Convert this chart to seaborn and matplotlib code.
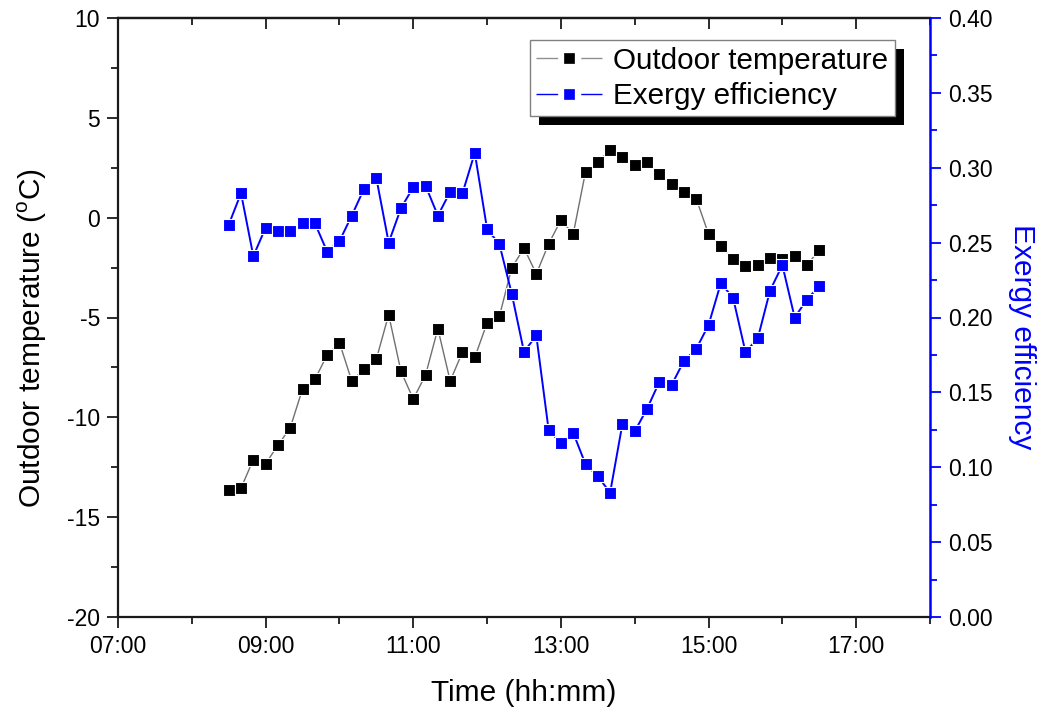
import matplotlib
matplotlib.use("Agg")
import matplotlib.pyplot as plt
from matplotlib.patches import Rectangle
from matplotlib.ticker import FixedLocator, MultipleLocator, NullFormatter
from matplotlib.lines import Line2D
import seaborn as sns
import pandas as pd

# Measurement times (10-minute logging interval)
times = [
    "08:30", "08:40", "08:50", "09:00", "09:10", "09:20", "09:30", "09:40", "09:50",
    "10:00", "10:10", "10:20", "10:30", "10:40", "10:50", "11:00", "11:10", "11:20",
    "11:30", "11:40", "11:50", "12:00", "12:10", "12:20", "12:30", "12:40", "12:50",
    "13:00", "13:10", "13:20", "13:30", "13:40", "13:50", "14:00", "14:10", "14:20",
    "14:30", "14:40", "14:50", "15:00", "15:10", "15:20", "15:30", "15:40", "15:50",
    "16:00", "16:10", "16:20", "16:30",
]

# Outdoor air temperature, degC
outdoor_temp = [
    -13.62, -13.54, -12.12, -12.32, -11.40, -10.52, -8.58, -8.10, -6.88,
    -6.26, -8.18, -7.58, -7.08, -4.86, -7.70, -9.08, -7.88, -5.56,
    -8.18, -6.73, -7.00, -5.27, -4.94, -2.52, -1.52, -2.82, -1.32,
    -0.12, -0.82, 2.29, 2.79, 3.40, 3.02, 2.62, 2.79, 2.20,
    1.69, 1.29, 0.95, -0.82, -1.44, -2.05, -2.44, -2.35, -2.02,
    -2.05, -1.90, -2.35, -1.64,
]

# Exergy efficiency of the system
exergy_eff = [
    0.262, 0.283, 0.241, 0.260, 0.258, 0.258, 0.263, 0.263, 0.244,
    0.251, 0.268, 0.286, 0.293, 0.250, 0.273, 0.287, 0.288, 0.268,
    0.284, 0.283, 0.310, 0.259, 0.249, 0.216, 0.177, 0.188, 0.125,
    0.116, 0.123, 0.102, 0.094, 0.083, 0.129, 0.124, 0.139, 0.157,
    0.155, 0.171, 0.179, 0.195, 0.223, 0.213, 0.177, 0.186, 0.218,
    0.235, 0.200, 0.212, 0.221,
]

x_tick_labels = ["07:00", "09:00", "11:00", "13:00", "15:00", "17:00"]

sns.set_style("ticks")
plt.rcParams["font.family"] = ["Liberation Sans", "DejaVu Sans"]
plt.rcParams["mathtext.fontset"] = "custom"
plt.rcParams["mathtext.rm"] = "Liberation Sans"
plt.rcParams["axes.unicode_minus"] = False
plt.rcParams["text.color"] = "black"
plt.rcParams["axes.labelcolor"] = "black"
plt.rcParams["xtick.color"] = "black"
plt.rcParams["ytick.color"] = "black"

def to_hours(s):
    h, m = s.split(":")
    return int(h) + int(m) / 60.0

df = pd.DataFrame({
    "hour": [to_hours(t) for t in times],
    "temp": outdoor_temp,
    "eff": exergy_eff,
})

fig = plt.figure(figsize=(10.48, 7.18), dpi=100)
ax = fig.add_axes([118 / 1048, 101 / 718, 812 / 1048, 599 / 718])
ax2 = ax.twinx()

BLUE = "#0000ff"
DARK = "#1a1a1a"
MS = 8.8

sns.lineplot(data=df, x="hour", y="temp", ax=ax, sort=False, color="#707070",
             linewidth=1.0, marker="s", markersize=MS, markerfacecolor="black",
             markeredgecolor="white", markeredgewidth=0.8, legend=False)
sns.lineplot(data=df, x="hour", y="eff", ax=ax2, sort=False, color=BLUE,
             linewidth=1.4, marker="s", markersize=MS, markerfacecolor=BLUE,
             markeredgecolor="white", markeredgewidth=0.8, legend=False)

# Left axis
ax.set_xlim(7, 18)
ax.set_ylim(-20, 10)
ax.xaxis.set_major_locator(FixedLocator([to_hours(t) for t in x_tick_labels]))
ax.set_xticklabels(x_tick_labels)
ax.xaxis.set_minor_locator(MultipleLocator(1))
ax.yaxis.set_major_locator(MultipleLocator(5))
ax.yaxis.set_minor_locator(MultipleLocator(2.5))
ax.tick_params(axis="both", which="major", direction="out", length=8, width=1.3,
               color=DARK, labelsize=16.5, pad=5)
ax.tick_params(axis="both", which="minor", direction="out", length=5, width=1.3,
               color=DARK)
ax.tick_params(axis="y", which="both", right=False)
for side in ["left", "bottom", "top"]:
    ax.spines[side].set_color(DARK)
    ax.spines[side].set_linewidth(1.6)
ax.spines["right"].set_visible(False)

ax.set_xlabel("Time (hh:mm)", fontsize=21.5, labelpad=15)
ax.set_ylabel("Outdoor temperature ($^{\\rm o}$C)", fontsize=21.5, labelpad=13,
              y=0.466)

# Top axis: inward ticks only
top = ax.secondary_xaxis("top")
top.xaxis.set_major_locator(FixedLocator([to_hours(t) for t in x_tick_labels]))
top.xaxis.set_minor_locator(MultipleLocator(1))
top.xaxis.set_major_formatter(NullFormatter())
top.tick_params(which="major", direction="in", length=8, width=1.3, color=DARK)
top.tick_params(which="minor", direction="in", length=5, width=1.3, color=DARK)
top.spines["top"].set_color(DARK)
top.spines["top"].set_linewidth(1.6)

# Right axis
ax2.set_ylim(0, 0.40)
ax2.yaxis.set_major_locator(MultipleLocator(0.05))
ax2.yaxis.set_minor_locator(MultipleLocator(0.025))
ax2.yaxis.set_major_formatter(plt.FuncFormatter(lambda v, p: f"{v:.2f}"))
ax2.tick_params(axis="y", which="major", direction="out", length=8, width=1.3,
                color=BLUE, labelcolor="black", labelsize=16.5, pad=5)
ax2.tick_params(axis="y", which="minor", direction="out", length=5, width=1.3,
                color=BLUE)
for side in ["left", "bottom", "top"]:
    ax2.spines[side].set_visible(False)
ax2.spines["right"].set_color(BLUE)
ax2.spines["right"].set_linewidth(1.8)
ax2.set_ylabel("Exergy efficiency", fontsize=21.5, color=BLUE, rotation=270,
               labelpad=31, y=0.468)

# Legend: line - marker - line handles, framed box with a solid drop shadow
seg_dashes = (15.6, 16.6, 15.6, 60)
handles = [
    Line2D([], [], color="#909090", linewidth=1.0, dashes=seg_dashes,
           marker="s", markersize=7.2, markerfacecolor="black",
           markeredgecolor="black", markeredgewidth=0.5),
    Line2D([], [], color=BLUE, linewidth=1.0, dashes=seg_dashes,
           marker="s", markersize=7.2, markerfacecolor=BLUE,
           markeredgecolor=BLUE, markeredgewidth=0.5),
]
leg = ax2.legend(handles, ["Outdoor temperature", "Exergy efficiency"],
                 loc="upper right", bbox_to_anchor=(777 / 812, 1 - 22 / 599),
                 borderaxespad=0, fontsize=21.3, frameon=True, fancybox=False,
                 framealpha=1, edgecolor="#808080", handlelength=2.2,
                 handletextpad=0.4, borderpad=0.22, labelspacing=0.25,
                 numpoints=1)
leg.get_frame().set_linewidth(1.0)
leg.set_zorder(6)

fig.canvas.draw()
bb = leg.get_window_extent()
off = 9
inv = ax2.transAxes.inverted()
(x0, y0) = inv.transform((bb.x0 + off, bb.y0 - off))
(x1, y1) = inv.transform((bb.x1 + off, bb.y1 - off))
shadow = Rectangle((x0, y0), x1 - x0, y1 - y0, transform=ax2.transAxes,
                   facecolor="black", edgecolor="none", zorder=5, clip_on=False)
ax2.add_patch(shadow)

fig.savefig("out.png", dpi=100)
